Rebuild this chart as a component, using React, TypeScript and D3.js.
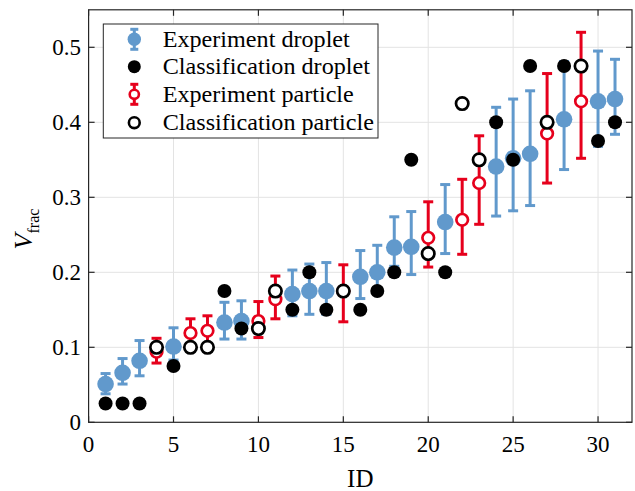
import React from "react";
import * as d3 from "d3";

const expDropletId = [1, 2, 3, 5, 8, 9, 12, 13, 14, 16, 17, 18, 19, 21, 24, 25, 26, 28, 30, 31];
const expDropletVal = [0.051, 0.066, 0.082, 0.101, 0.133, 0.135, 0.171, 0.175, 0.175, 0.194, 0.2, 0.233, 0.234, 0.267, 0.341, 0.352, 0.358, 0.404, 0.428, 0.431];
const expDropletLow = [0.038, 0.051, 0.062, 0.083, 0.111, 0.111, 0.142, 0.144, 0.144, 0.165, 0.176, 0.208, 0.197, 0.225, 0.275, 0.282, 0.289, 0.337, 0.368, 0.384];
const expDropletHigh = [0.065, 0.085, 0.109, 0.126, 0.16, 0.162, 0.203, 0.211, 0.213, 0.229, 0.236, 0.274, 0.281, 0.317, 0.42, 0.431, 0.442, 0.481, 0.495, 0.484];
const classDropletVal = [0.025, 0.025, 0.025, 0.075, 0.175, 0.125, 0.15, 0.2, 0.15, 0.15, 0.175, 0.2, 0.35, 0.2, 0.4, 0.35, 0.475, 0.475, 0.375, 0.4];

const expParticleId = [4, 6, 7, 10, 11, 15, 20, 22, 23, 27, 29];
const expParticleVal = [0.094, 0.119, 0.122, 0.135, 0.164, 0.175, 0.246, 0.27, 0.319, 0.385, 0.428];
const expParticleLow = [0.079, 0.103, 0.104, 0.113, 0.138, 0.134, 0.207, 0.224, 0.264, 0.319, 0.352];
const expParticleHigh = [0.112, 0.138, 0.142, 0.161, 0.195, 0.21, 0.294, 0.324, 0.382, 0.465, 0.52];
const classParticleVal = [0.1, 0.1, 0.1, 0.125, 0.175, 0.175, 0.225, 0.425, 0.35, 0.4, 0.475];

const xTicks = [0, 5, 10, 15, 20, 25, 30];
const yTicks = [0, 0.1, 0.2, 0.3, 0.4, 0.5];
const legendLabels = ["Experiment droplet", "Classification droplet", "Experiment particle", "Classification particle"];

const W = 635;
const H = 491;
const L = 88.6;
const R = 632;
const T = 9.8;
const B = 422.3;

const BLUE = "#6199cc";
const RED = "#e6001c";
const AX = "#262626";
const GRID = "#e3e3e3";
const FONT = "'Liberation Serif', 'Times New Roman', serif";

export default function App() {
  const x = d3.scaleLinear().domain([0, 32]).range([L, R]);
  const y = d3.scaleLinear().domain([0, 0.55]).range([B, T]);
  const cap = 5;
  const tick = 6;

  const errBar = (xi: number, lo: number, hi: number, color: string, key: string) => (
    <g key={key} stroke={color} strokeWidth={3} fill="none">
      <line x1={x(xi)} x2={x(xi)} y1={y(lo)} y2={y(hi)} />
      <line x1={x(xi) - cap} x2={x(xi) + cap} y1={y(lo)} y2={y(lo)} />
      <line x1={x(xi) - cap} x2={x(xi) + cap} y1={y(hi)} y2={y(hi)} />
    </g>
  );

  const legX = 134.3;
  const legTextX = 162.7;
  const legY = [39.3, 66.7, 94.3, 122.7];

  return (
    <svg width={W} height={H} style={{ position: "absolute", left: 0, top: 0, background: "#fff" }}>
      <rect x={0} y={0} width={W} height={H} fill="#fff" />
      {/* grid */}
      <g stroke={GRID} strokeWidth={1}>
        {xTicks.filter((t) => t > 0).map((t) => (
          <line key={"gx" + t} x1={x(t)} x2={x(t)} y1={T} y2={B} />
        ))}
        {yTicks.filter((t) => t > 0).map((t) => (
          <line key={"gy" + t} x1={L} x2={R} y1={y(t)} y2={y(t)} />
        ))}
      </g>

      {/* experiment droplet */}
      <g>
        {expDropletId.map((id, i) => errBar(id, expDropletLow[i], expDropletHigh[i], BLUE, "eb" + i))}
        {expDropletId.map((id, i) => (
          <circle key={"ed" + i} cx={x(id)} cy={y(expDropletVal[i])} r={8.3} fill={BLUE} />
        ))}
      </g>
      {/* classification droplet */}
      <g>
        {expDropletId.map((id, i) => (
          <circle key={"cd" + i} cx={x(id)} cy={y(classDropletVal[i])} r={7} fill="#000" />
        ))}
      </g>
      {/* experiment particle */}
      <g>
        {expParticleId.map((id, i) => errBar(id, expParticleLow[i], expParticleHigh[i], RED, "pb" + i))}
        {expParticleId.map((id, i) => (
          <circle key={"ep" + i} cx={x(id)} cy={y(expParticleVal[i])} r={5.8} fill="#fff" stroke={RED} strokeWidth={2.7} />
        ))}
      </g>
      {/* classification particle */}
      <g>
        {expParticleId.map((id, i) => (
          <circle key={"cp" + i} cx={x(id)} cy={y(classParticleVal[i])} r={6.2} fill="#fff" stroke="#000" strokeWidth={2.7} />
        ))}
      </g>

      {/* axes box */}
      <rect x={L} y={T} width={R - L} height={B - T} fill="none" stroke={AX} strokeWidth={1.2} />
      <g stroke={AX} strokeWidth={1.2}>
        {xTicks.map((t) => (
          <g key={"tx" + t}>
            <line x1={x(t)} x2={x(t)} y1={B} y2={B - tick} />
            <line x1={x(t)} x2={x(t)} y1={T} y2={T + tick} />
          </g>
        ))}
        {yTicks.map((t) => (
          <g key={"ty" + t}>
            <line x1={L} x2={L + tick} y1={y(t)} y2={y(t)} />
            <line x1={R} x2={R - tick} y1={y(t)} y2={y(t)} />
          </g>
        ))}
      </g>
      <g fontFamily={FONT} fontSize={23} fill="#000">
        {xTicks.map((t) => (
          <text key={"lx" + t} x={x(t)} y={451.5} textAnchor="middle">{t}</text>
        ))}
        {yTicks.map((t) => (
          <text key={"ly" + t} x={81} y={y(t) + 7.5} textAnchor="end">{t === 0 ? "0" : d3.format(".1f")(t)}</text>
        ))}
      </g>
      <text x={(L + R) / 2} y={486.5} textAnchor="middle" fontFamily={FONT} fontSize={25}>ID</text>
      <text transform="translate(32.3,229) rotate(-90)" textAnchor="middle" fontFamily={FONT} fontSize={26}>
        <tspan fontStyle="italic">V</tspan>
        <tspan fontSize={16} dy={6.5}>frac</tspan>
      </text>

      {/* legend */}
      <rect x={103.3} y={24} width={274.7} height={114} fill="#fff" stroke={AX} strokeWidth={1} />
      <g>
        <g stroke={BLUE} strokeWidth={3}>
          <line x1={legX} x2={legX} y1={legY[0] - 10} y2={legY[0] + 10} />
          <line x1={legX - 4} x2={legX + 4} y1={legY[0] - 10} y2={legY[0] - 10} />
          <line x1={legX - 4} x2={legX + 4} y1={legY[0] + 10} y2={legY[0] + 10} />
        </g>
        <circle cx={legX} cy={legY[0]} r={6.7} fill={BLUE} />
        <circle cx={legX} cy={legY[1]} r={6.5} fill="#000" />
        <g stroke={RED} strokeWidth={3}>
          <line x1={legX} x2={legX} y1={legY[2] - 10} y2={legY[2] + 10} />
          <line x1={legX - 4} x2={legX + 4} y1={legY[2] - 10} y2={legY[2] - 10} />
          <line x1={legX - 4} x2={legX + 4} y1={legY[2] + 10} y2={legY[2] + 10} />
        </g>
        <circle cx={legX} cy={legY[2]} r={4.6} fill="#fff" stroke={RED} strokeWidth={2.6} />
        <circle cx={legX} cy={legY[3]} r={5.4} fill="#fff" stroke="#000" strokeWidth={2.6} />
      </g>
      <g fontFamily={FONT} fontSize={23} fill="#000">
        {legendLabels.map((s, i) => (
          <text key={"lg" + i} transform={`translate(${legTextX},${legY[i] + 7.5}) scale(1.05,1)`}>{s}</text>
        ))}
      </g>
    </svg>
  );
}
